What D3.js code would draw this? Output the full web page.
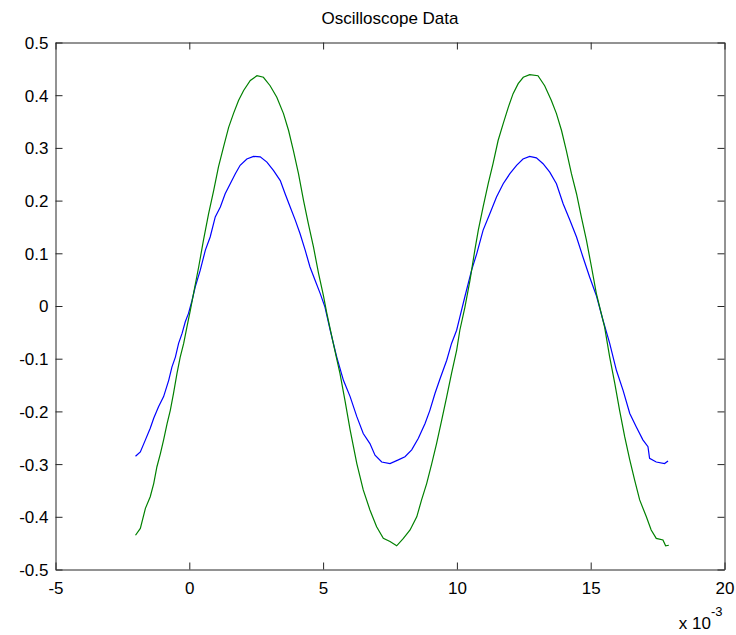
<!DOCTYPE html>
<html>
<head>
<meta charset="utf-8">
<script src="https://cdn.jsdelivr.net/npm/d3@7"></script>
<style>
  body { margin: 0; background: #fff; }
  text { font-family: "Liberation Sans", Arial, sans-serif; fill: #000; }
</style>
</head>
<body>
<svg id="chart" width="736" height="635"></svg>
<script>
// time in units of 1e-3 (the axis carries the "x 10^-3" multiplier)
const blueT = [-2.01,-1.83,-1.64,-1.46,-1.33,-1.15,-0.96,-0.77,-0.65,-0.52,-0.40,-0.27,-0.15,-0.03,0.10,0.22,0.41,0.60,0.78,0.97,
  1.16,1.34,1.53,1.72,1.90,2.15,2.40,2.65,2.90,3.15,3.40,3.58,3.77,3.96,4.14,4.33,4.51,4.70,4.89,5.07,
  5.26,5.51,5.76,6.01,6.26,6.50,6.75,6.94,7.19,7.50,7.81,8.06,8.31,8.56,8.81,8.99,9.18,9.37,9.62,9.80,
  9.99,10.11,10.30,10.55,10.74,10.98,11.23,11.48,11.73,11.98,12.23,12.47,12.72,12.97,13.22,13.47,13.72,13.97,14.22,14.47,
  14.71,14.96,15.21,15.46,15.71,15.96,16.21,16.46,16.70,16.95,17.14,17.20,17.45,17.76,17.89];
const blueV = [-0.285,-0.277,-0.254,-0.232,-0.213,-0.191,-0.172,-0.141,-0.116,-0.097,-0.071,-0.052,-0.030,-0.014,0.010,0.036,0.068,0.106,0.131,0.169,
  0.188,0.213,0.232,0.251,0.267,0.279,0.284,0.283,0.273,0.257,0.238,0.213,0.188,0.163,0.137,0.106,0.074,0.049,0.024,-0.002,
  -0.045,-0.097,-0.141,-0.172,-0.210,-0.242,-0.261,-0.283,-0.296,-0.299,-0.292,-0.286,-0.273,-0.251,-0.223,-0.198,-0.166,-0.138,-0.103,-0.071,
  -0.046,-0.021,0.018,0.068,0.099,0.144,0.175,0.207,0.232,0.251,0.267,0.279,0.284,0.281,0.270,0.254,0.232,0.194,0.163,0.131,
  0.093,0.055,0.020,-0.027,-0.071,-0.122,-0.160,-0.204,-0.229,-0.254,-0.267,-0.289,-0.296,-0.299,-0.294];

const greenT = [-2.01,-1.83,-1.64,-1.46,-1.33,-1.21,-1.08,-0.96,-0.83,-0.71,-0.59,-0.46,-0.34,-0.21,-0.09,0.04,0.16,0.35,0.53,0.72,
  0.91,1.09,1.28,1.47,1.65,1.84,2.03,2.28,2.53,2.77,3.02,3.27,3.52,3.71,3.89,4.08,4.27,4.45,4.64,4.83,
  5.01,5.14,5.38,5.63,5.82,6.01,6.26,6.50,6.75,7.00,7.25,7.50,7.75,8.00,8.25,8.50,8.68,8.87,9.06,9.24,
  9.43,9.62,9.80,9.99,10.11,10.30,10.49,10.67,10.80,10.98,11.17,11.35,11.54,11.73,11.92,12.10,12.29,12.48,12.72,13.03,
  13.28,13.53,13.72,13.91,14.09,14.28,14.47,14.65,14.84,15.03,15.21,15.52,15.71,15.90,16.08,16.27,16.46,16.64,16.83,17.08,
  17.26,17.45,17.70,17.80,17.92];
const greenV = [-0.435,-0.422,-0.384,-0.362,-0.337,-0.305,-0.280,-0.254,-0.223,-0.198,-0.166,-0.128,-0.097,-0.071,-0.040,-0.008,0.024,0.074,0.125,0.175,
  0.219,0.264,0.302,0.339,0.365,0.390,0.409,0.428,0.437,0.434,0.418,0.396,0.365,0.333,0.295,0.251,0.200,0.156,0.112,0.062,
  0.020,-0.014,-0.071,-0.128,-0.180,-0.235,-0.299,-0.349,-0.387,-0.419,-0.441,-0.447,-0.455,-0.441,-0.425,-0.400,-0.368,-0.337,-0.299,-0.261,
  -0.217,-0.172,-0.128,-0.084,-0.046,-0.002,0.049,0.106,0.144,0.188,0.232,0.270,0.314,0.346,0.377,0.403,0.422,0.434,0.439,0.437,
  0.418,0.390,0.365,0.333,0.295,0.251,0.213,0.169,0.125,0.074,0.024,-0.040,-0.097,-0.147,-0.198,-0.248,-0.292,-0.330,-0.368,-0.400,
  -0.425,-0.441,-0.444,-0.455,-0.454];

const xTicks = [-5, 0, 5, 10, 15, 20];
const yTicks = [-0.5, -0.4, -0.3, -0.2, -0.1, 0, 0.1, 0.2, 0.3, 0.4, 0.5];
const title = "Oscilloscope Data";

const box = { left: 55.5, right: 724.5, top: 42.5, bottom: 569.5 };
const tickLen = 7;

const svg = d3.select("#chart");
const x = d3.scaleLinear().domain([-5, 20]).range([box.left, box.right]);
const y = d3.scaleLinear().domain([-0.5, 0.5]).range([box.bottom, box.top]);

const fmt = d => d === 0 ? "0" : String(d);

// curves
const line = d3.line().x(d => x(d[0])).y(d => y(d[1]));
svg.append("path")
  .datum(blueT.map((t, i) => [t, blueV[i]]))
  .attr("d", line).attr("fill", "none")
  .attr("stroke", "#0000ff").attr("stroke-width", 1.2);
svg.append("path")
  .datum(greenT.map((t, i) => [t, greenV[i]]))
  .attr("d", line).attr("fill", "none")
  .attr("stroke", "#008000").attr("stroke-width", 1.2);

// axes, matlab box style with ticks inside on all four sides
const axisColor = "#262626";
svg.append("g").attr("transform", "translate(0," + box.bottom + ")")
  .call(d3.axisBottom(x).tickValues(xTicks).tickSizeInner(-tickLen).tickSizeOuter(0).tickFormat(fmt))
  .call(g => g.selectAll("text").attr("dy", null).attr("y", 24).style("font-size", "17px").attr("fill", "#000"));
svg.append("g").attr("transform", "translate(0," + box.top + ")")
  .call(d3.axisTop(x).tickValues(xTicks).tickSizeInner(-tickLen).tickSizeOuter(0).tickFormat(""));
svg.append("g").attr("transform", "translate(" + box.left + ",0)")
  .call(d3.axisLeft(y).tickValues(yTicks).tickSizeInner(-tickLen).tickSizeOuter(0).tickFormat(fmt))
  .call(g => g.selectAll("text").attr("x", -7).attr("dy", "0.35em").style("font-size", "17px").attr("fill", "#000"));
svg.append("g").attr("transform", "translate(" + box.right + ",0)")
  .call(d3.axisRight(y).tickValues(yTicks).tickSizeInner(-tickLen).tickSizeOuter(0).tickFormat(""));

svg.selectAll(".domain").attr("stroke", axisColor);
svg.selectAll(".tick line").attr("stroke", axisColor);

// title
svg.append("text")
  .attr("x", (box.left + box.right) / 2).attr("y", 24)
  .attr("text-anchor", "middle").style("font-size", "17px")
  .text(title);

// exponent label
svg.append("text")
  .attr("x", 711).attr("y", 629).attr("text-anchor", "end").style("font-size", "17px")
  .text("x 10");
svg.append("text").attr("x", 711).attr("y", 616).style("font-size", "13px").text("-3");
</script>
</body>
</html>
